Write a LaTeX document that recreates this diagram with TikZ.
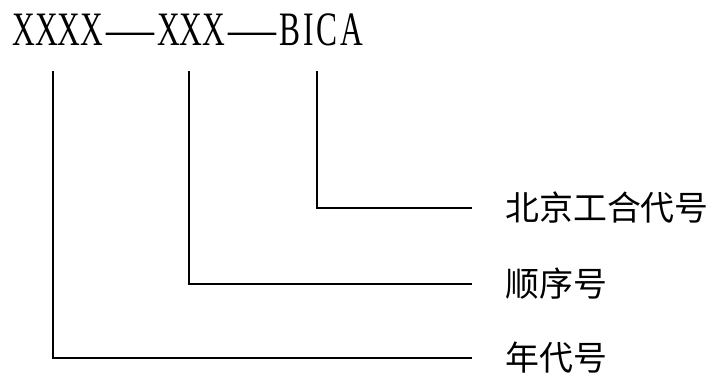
\documentclass[tikz,border=0pt]{standalone}
\usepackage{fontspec}
\newfontfamily\cjk{Noto Sans CJK SC}
\newfontfamily\codefont[FakeStretch=0.656]{Liberation Serif}
\newfontfamily\bicafont[FakeStretch=0.656, LetterSpace=6]{Liberation Serif}
\newfontfamily\dashfont{Liberation Serif}
\newcommand{\codedash}{\kern1.7pt{\dashfont —}\kern1.7pt}
\usetikzlibrary{positioning}
\tikzset{lead/.style = {line width=1.1pt}}
\tikzset{lbl/.style = {anchor=west, inner xsep=0.66cm, inner ysep=0,
                       font=\cjk\fontsize{19.3}{20}\selectfont}}

\begin{document}
\begin{tikzpicture}[x=0.02cm, y=-0.02cm]
  \useasboundingbox (0,0) rectangle (719,376);

  \node [anchor=base west, inner sep=0, font=\fontsize{27.3}{28}\selectfont] (code) at (12,45)
        {\codefont XXXX\codedash XXX\codedash\bicafont BICA};

  \coordinate (yeartop) at (53,71);
  \coordinate (seqtop) at (189,71);
  \coordinate (orgtop) at (317,71);

  \node [lbl] (org) at (472,208) {北京工合代号};
  \node [lbl] (seq) at (472,284) {顺序号};
  \node [lbl] (year) at (472,358) {年代号};

  \draw [lead] (orgtop) |- (org.west);
  \draw [lead] (seqtop) |- (seq.west);
  \draw [lead] (yeartop) |- (year.west);
\end{tikzpicture}
\end{document}
